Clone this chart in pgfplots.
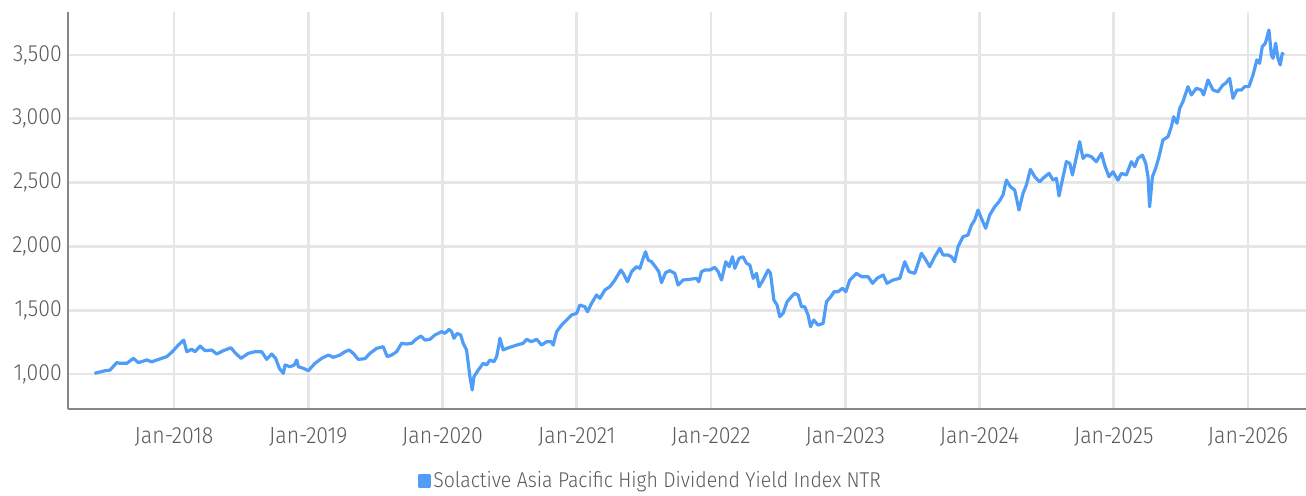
\documentclass[border=0pt]{standalone}
\usepackage{pgfplots}
\pgfplotsset{compat=1.18}
\usepackage{fontspec}
\setmainfont{Fira Sans}[UprightFont={* Light}, FakeStretch=0.91]
\definecolor{lineblue}{RGB}{80,157,248}
\definecolor{txtgray}{RGB}{90,90,90}
\definecolor{gridgray}{RGB}{230,230,230}
\definecolor{axgray}{RGB}{135,135,135}
\begin{document}
\fontsize{23.5}{28}\selectfont
\begin{tikzpicture}
\begin{axis}[
  name=ax,
  at={(0,0)}, anchor=south west,
  scale only axis,
  width=1238bp, height=397bp,
  xmin=2017.210, xmax=2026.432,
  ymin=726, ymax=3837,
  axis lines=left,
  axis line style={-, draw=axgray, line width=2.2bp},
  xtick={2018,2019,2020,2021,2022,2023,2024,2025,2026},
  xticklabels={Jan-2018,Jan-2019,Jan-2020,Jan-2021,Jan-2022,Jan-2023,Jan-2024,Jan-2025,Jan-2026},
  ytick={1000,1500,2000,2500,3000,3500},
  major tick length=0pt,
  grid=major,
  major grid style={draw=gridgray, line width=2.8bp},
  tick label style={font=\fontsize{23.5}{28}\selectfont, text=txtgray},
  xticklabel style={inner sep=0pt, anchor=north, yshift=-18bp},
  yticklabel style={inner sep=0pt, anchor=east, xshift=-6bp},
  /pgf/number format/assume math mode=true,
  /pgf/number format/.cd, 1000 sep={,},
  /pgfplots/.cd,
  legend style={at={(0.4705,-0.1814)}, anchor=center, draw=none, fill=none,
    font=\fontsize{21.5}{26}\selectfont, text=txtgray, inner sep=0pt,
    nodes={inner sep=2.5bp}},
  legend cell align=left,
  legend image code/.code={\fill[lineblue] (0bp,-5bp) rectangle (10bp,5bp);},
  clip=true,
]
\addplot[lineblue, line width=3.2bp, line join=round] coordinates {
(2017.407,1005) (2017.486,1026) (2017.523,1031) (2017.573,1089) (2017.598,1084)
(2017.648,1084) (2017.697,1123) (2017.734,1089) (2017.797,1110) (2017.834,1096)
(2017.908,1123) (2017.946,1136) (2017.987,1175) (2018.032,1227) (2018.072,1266)
(2018.095,1175) (2018.132,1194) (2018.156,1175) (2018.194,1219) (2018.231,1183)
(2018.281,1188) (2018.318,1157) (2018.367,1183) (2018.424,1206) (2018.454,1167)
(2018.499,1123) (2018.553,1162) (2018.603,1175) (2018.653,1175) (2018.690,1115)
(2018.727,1157) (2018.757,1123) (2018.784,1045) (2018.814,1005) (2018.827,1071)
(2018.864,1057) (2018.896,1071) (2018.914,1110) (2018.926,1057) (2018.963,1045)
(2019.000,1026) (2019.050,1084) (2019.100,1123) (2019.149,1149) (2019.186,1131)
(2019.236,1149) (2019.273,1175) (2019.305,1188) (2019.335,1162) (2019.372,1115)
(2019.422,1120) (2019.459,1162) (2019.509,1201) (2019.558,1214) (2019.588,1136)
(2019.621,1149) (2019.658,1175) (2019.695,1241) (2019.733,1235) (2019.770,1241)
(2019.802,1272) (2019.839,1298) (2019.869,1266) (2019.906,1272) (2019.943,1306)
(2019.993,1332) (2020.018,1319) (2020.048,1350) (2020.068,1332) (2020.085,1280)
(2020.109,1319) (2020.135,1306) (2020.154,1241) (2020.179,1188) (2020.204,979)
(2020.221,875) (2020.234,979) (2020.266,1031) (2020.303,1084) (2020.328,1071)
(2020.353,1110) (2020.383,1096) (2020.403,1136) (2020.422,1241) (2020.427,1280)
(2020.452,1188) (2020.477,1201) (2020.515,1214) (2020.552,1227) (2020.601,1241)
(2020.626,1272) (2020.663,1253) (2020.701,1272) (2020.738,1227) (2020.775,1253)
(2020.812,1253) (2020.824,1227) (2020.850,1332) (2020.887,1384) (2020.924,1423)
(2020.961,1462) (2020.999,1476) (2021.023,1541) (2021.060,1527) (2021.080,1488)
(2021.110,1554) (2021.147,1619) (2021.172,1593) (2021.209,1658) (2021.246,1684)
(2021.284,1737) (2021.328,1815) (2021.346,1789) (2021.378,1723) (2021.408,1802)
(2021.445,1841) (2021.470,1828) (2021.490,1893) (2021.512,1958) (2021.532,1893)
(2021.557,1880) (2021.594,1828) (2021.611,1802) (2021.631,1716) (2021.661,1794)
(2021.693,1810) (2021.730,1789) (2021.755,1697) (2021.792,1737) (2021.842,1742)
(2021.892,1750) (2021.909,1723) (2021.929,1802) (2021.954,1815) (2021.991,1815)
(2022.028,1836) (2022.053,1802) (2022.078,1737) (2022.110,1880) (2022.135,1841)
(2022.160,1919) (2022.177,1828) (2022.209,1907) (2022.239,1919) (2022.264,1868)
(2022.289,1854) (2022.314,1750) (2022.339,1789) (2022.358,1684) (2022.388,1737)
(2022.425,1815) (2022.443,1789) (2022.468,1580) (2022.492,1541) (2022.512,1449)
(2022.537,1476) (2022.567,1567) (2022.599,1606) (2022.624,1632) (2022.649,1619)
(2022.674,1527) (2022.698,1527) (2022.723,1462) (2022.741,1371) (2022.765,1423)
(2022.797,1384) (2022.835,1397) (2022.860,1567) (2022.892,1606) (2022.917,1645)
(2022.946,1645) (2022.979,1672) (2023.004,1645) (2023.034,1737) (2023.083,1789)
(2023.121,1763) (2023.170,1763) (2023.203,1711) (2023.237,1750) (2023.282,1776)
(2023.311,1711) (2023.356,1737) (2023.406,1750) (2023.443,1880) (2023.475,1802)
(2023.518,1789) (2023.567,1946) (2023.592,1907) (2023.629,1841) (2023.666,1919)
(2023.704,1985) (2023.728,1933) (2023.765,1933) (2023.791,1919) (2023.815,1880)
(2023.840,1998) (2023.877,2076) (2023.914,2089) (2023.940,2168) (2023.964,2207)
(2023.989,2285) (2024.014,2220) (2024.046,2142) (2024.076,2246) (2024.113,2311)
(2024.145,2350) (2024.175,2403) (2024.200,2520) (2024.230,2468) (2024.262,2442)
(2024.294,2285) (2024.324,2416) (2024.349,2481) (2024.379,2604) (2024.411,2546)
(2024.448,2507) (2024.486,2546) (2024.518,2573) (2024.547,2520) (2024.573,2534)
(2024.592,2395) (2024.617,2520) (2024.647,2664) (2024.672,2651) (2024.692,2560)
(2024.722,2703) (2024.746,2821) (2024.771,2690) (2024.796,2716) (2024.833,2703)
(2024.870,2664) (2024.908,2730) (2024.932,2638) (2024.964,2546) (2024.994,2585)
(2025.031,2520) (2025.057,2573) (2025.094,2560) (2025.131,2664) (2025.156,2625)
(2025.180,2690) (2025.213,2716) (2025.238,2651) (2025.255,2546) (2025.267,2311)
(2025.288,2546) (2025.312,2612) (2025.337,2703) (2025.366,2834) (2025.404,2860)
(2025.429,2938) (2025.446,3016) (2025.471,2965) (2025.491,3082) (2025.515,3134)
(2025.553,3252) (2025.578,3187) (2025.615,3239) (2025.652,3226) (2025.669,3187)
(2025.702,3304) (2025.739,3226) (2025.776,3212) (2025.813,3265) (2025.833,3278)
(2025.863,3317) (2025.888,3161) (2025.917,3226) (2025.950,3226) (2025.975,3252)
(2026.007,3252) (2026.037,3343) (2026.066,3461) (2026.086,3435) (2026.106,3565)
(2026.129,3592) (2026.156,3696) (2026.174,3500) (2026.186,3474) (2026.206,3592)
(2026.223,3474) (2026.240,3422) (2026.255,3513) (2026.265,3500)
};
\addlegendentry{Solactive Asia Pacific High Dividend Yield Index NTR}
\end{axis}
\pgfresetboundingbox
\useasboundingbox ([xshift=-68bp,yshift=-87bp]ax.south west) rectangle ([yshift=12bp]ax.north east);
\end{tikzpicture}
\end{document}
